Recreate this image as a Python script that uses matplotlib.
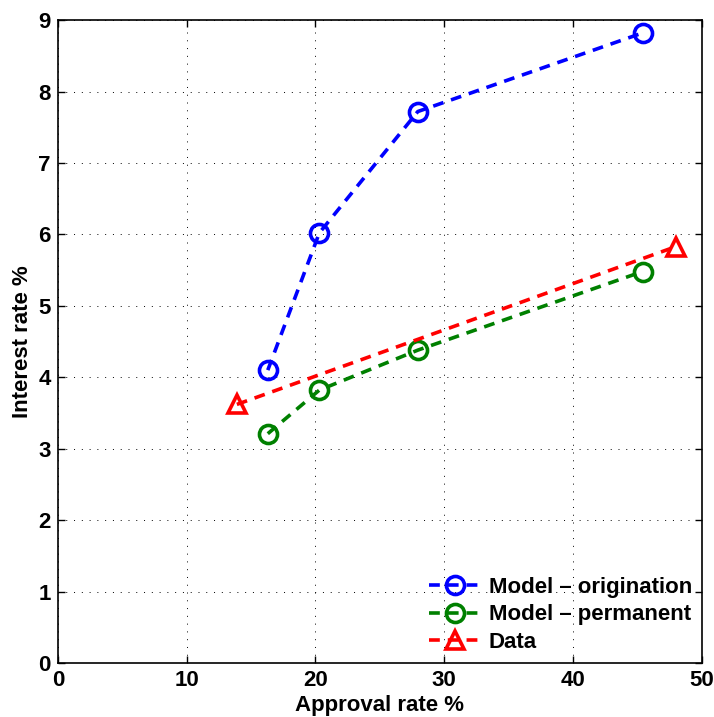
import matplotlib
matplotlib.use('Agg')
import matplotlib.pyplot as plt

plt.rcParams['font.family'] = ['Liberation Sans', 'DejaVu Sans']
plt.rcParams['font.weight'] = 'bold'

# approval rate (%) and interest rate (%)
model_x = [16.3, 20.3, 27.95, 45.4]
orig_y = [4.10, 6.02, 7.72, 8.82]
perm_y = [3.21, 3.82, 4.38, 5.48]
data_x = [13.9, 48.0]
data_y = [3.62, 5.83]

fig = plt.figure(figsize=(7.14, 7.17), dpi=100)
ax = fig.add_axes([0.081, 0.0753, 0.902, 0.8967])

lw = 2.6
ax.plot(model_x, orig_y, '--o', color='blue', lw=lw, ms=13, mew=lw,
        fillstyle='none', dashes=(3, 2.2), label='Model \u2013 origination')
ax.plot(model_x, perm_y, '--o', color='green', lw=lw, ms=13, mew=lw,
        fillstyle='none', dashes=(3, 2.2), label='Model \u2013 permanent')
ax.plot(data_x, data_y, '--^', color='red', lw=lw, ms=13, mew=lw,
        fillstyle='none', dashes=(3, 2.2), label='Data')

ax.set_xlim(0, 50)
ax.set_ylim(0, 9)
ax.set_xticks(range(0, 51, 10))
ax.set_yticks(range(0, 10))
ax.grid(True, color='black', linestyle=(0, (1, 7)), linewidth=0.7)
ax.tick_params(direction='in', labelsize=16, length=5, width=1, top=True, right=True, pad=5)
for lab in ax.get_xticklabels() + ax.get_yticklabels():
    lab.set_fontweight('bold')
for s in ax.spines.values():
    s.set_linewidth(1.2)

ax.set_xlabel('Approval rate %', fontsize=16, fontweight='bold', labelpad=3)
ax.set_ylabel('Interest rate %', fontsize=16, fontweight='bold', labelpad=4)

ax.legend(loc='lower right', frameon=False, fontsize=16, handlelength=2.4,
          handletextpad=0.3, borderaxespad=0.05, labelspacing=0.3)

fig.savefig('out.png', dpi=100)
